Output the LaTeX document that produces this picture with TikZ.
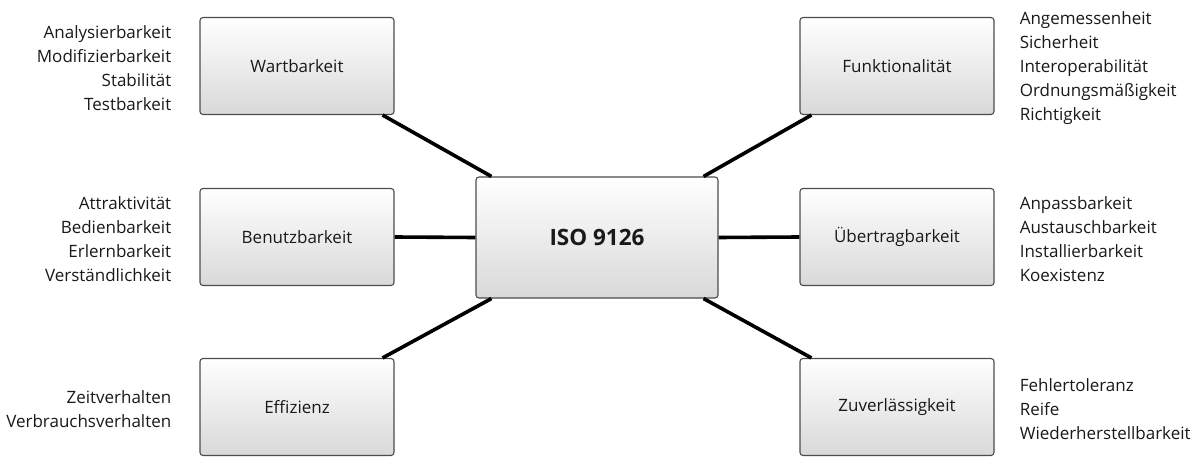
\documentclass[tikz,border=0pt]{standalone}
\usepackage{fontspec}
\setmainfont{Open Sans}
\begin{document}
\begin{tikzpicture}[x=1pt,y=-1pt,
  box/.style={draw=black!70, line width=1.1pt, rounded corners=3pt,
    top color=white, bottom color=black!15, minimum width=194pt, minimum height=97pt,
    inner sep=0pt, font=\fontsize{17}{24}\selectfont, text=black!90},
  centerbox/.style={box, minimum width=242pt, minimum height=121pt,
    font=\fontsize{22.5}{28}\selectfont\bfseries},
  listL/.style={anchor=east, align=right, inner sep=0pt, yshift=-2pt, font=\fontsize{17}{24}\selectfont, text=black!90},
  listR/.style={anchor=west, align=left, inner sep=0pt, yshift=-2pt, font=\fontsize{17}{24}\selectfont, text=black!90},
  conn/.style={line width=3.6pt, black}]
\useasboundingbox (0,0) rectangle (1200,457);
\node[centerbox] (iso) at (597,237.5) {ISO 9126};
\node[box] (wart) at (297,66) {\raisebox{-2pt}{Wartbarkeit}};
\node[box] (benu) at (297,237) {\raisebox{-2pt}{Benutzbarkeit}};
\node[box] (effi) at (297,407) {\raisebox{-2pt}{Effizienz}};
\node[box] (funk) at (897,66) {\raisebox{-2pt}{Funktionalität}};
\node[box] (uebe) at (897,237) {\raisebox{-2pt}{Übertragbarkeit}};
\node[box] (zuve) at (897,407) {\raisebox{-2pt}{Zuverlässigkeit}};
\node[listL] (lwart) at ([xshift=-28pt]wart.west) {Analysierbarkeit\\Modifizierbarkeit\\Stabilität\\Testbarkeit};
\node[listL] (lbenu) at ([xshift=-28pt]benu.west) {Attraktivität\\Bedienbarkeit\\Erlernbarkeit\\Verständlichkeit};
\node[listL] (leffi) at ([xshift=-28pt]effi.west) {Zeitverhalten\\Verbrauchsverhalten};
\node[listR] (lfunk) at ([xshift=25pt]funk.east) {Angemessenheit\\Sicherheit\\Interoperabilität\\Ordnungsmäßigkeit\\Richtigkeit};
\node[listR] (luebe) at ([xshift=25pt]uebe.east) {Anpassbarkeit\\Austauschbarkeit\\Installierbarkeit\\Koexistenz};
\node[listR] (lzuve) at ([xshift=25pt]zuve.east) {Fehlertoleranz\\Reife\\Wiederherstellbarkeit};
\draw[conn] ([xshift=-12pt]wart.south east) -- ([xshift=16pt]iso.north west);
\draw[conn] (benu.east) -- (iso.west);
\draw[conn] ([xshift=-12pt]effi.north east) -- ([xshift=16pt]iso.south west);
\draw[conn] ([xshift=12pt]funk.south west) -- ([xshift=-15pt]iso.north east);
\draw[conn] (uebe.west) -- (iso.east);
\draw[conn] ([xshift=12pt]zuve.north west) -- ([xshift=-15pt]iso.south east);
\end{tikzpicture}
\end{document}
